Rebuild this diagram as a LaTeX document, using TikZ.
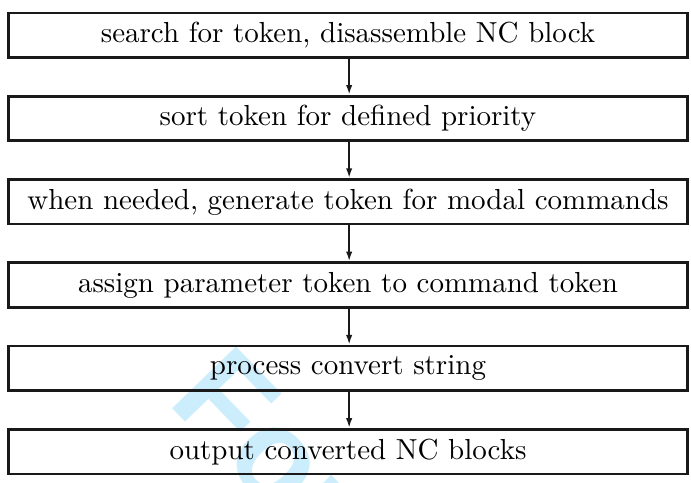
\documentclass[tikz,border=0pt]{standalone}
\usepackage{fontspec}
\newfontfamily\wmfont{Liberation Sans}
\usetikzlibrary{arrows.meta}
\definecolor{wmcyan}{RGB}{204,238,252}
\tikzset{
  stepbox/.style={draw=black!90, line width=0.93pt, rectangle,
    minimum width=234.3pt, minimum height=15.35pt, inner sep=0pt,
    font=\fontsize{10}{12}\selectfont},
  flowarrow/.style={draw=black!90, line width=0.9pt, -{Latex[length=3.4pt,width=2.2pt]}},
  watermark/.style={font=\wmfont\bfseries\fontsize{44.6}{50}\selectfont, text=wmcyan, inner sep=0pt}
}
\begin{document}
\begin{tikzpicture}[x=0.345pt,y=-0.345pt]
\useasboundingbox (0,0) rectangle (691,483);
\begin{scope}
\clip (0,0) rectangle (691,483);
\node[watermark, rotate=-46, anchor=base west] (wm) at (166,402) {For};
\end{scope}
\node[stepbox] (s1) at (348,35.2) {search for token, disassemble NC block};
\node[stepbox] (s2) at (348,118.5) {sort token for defined priority};
\node[stepbox] (s3) at (348,201.8) {when needed, generate token for modal commands};
\node[stepbox] (s4) at (348,285.1) {assign parameter token to command token};
\node[stepbox] (s5) at (348,368.4) {process convert string};
\node[stepbox] (s6) at (348,451.7) {output converted NC blocks};
\foreach \a/\b in {s1/s2,s2/s3,s3/s4,s4/s5,s5/s6}
  \draw[flowarrow] ([xshift=0.4pt]\a.south) -- ([xshift=0.4pt]\b.north);
\end{tikzpicture}
\end{document}
